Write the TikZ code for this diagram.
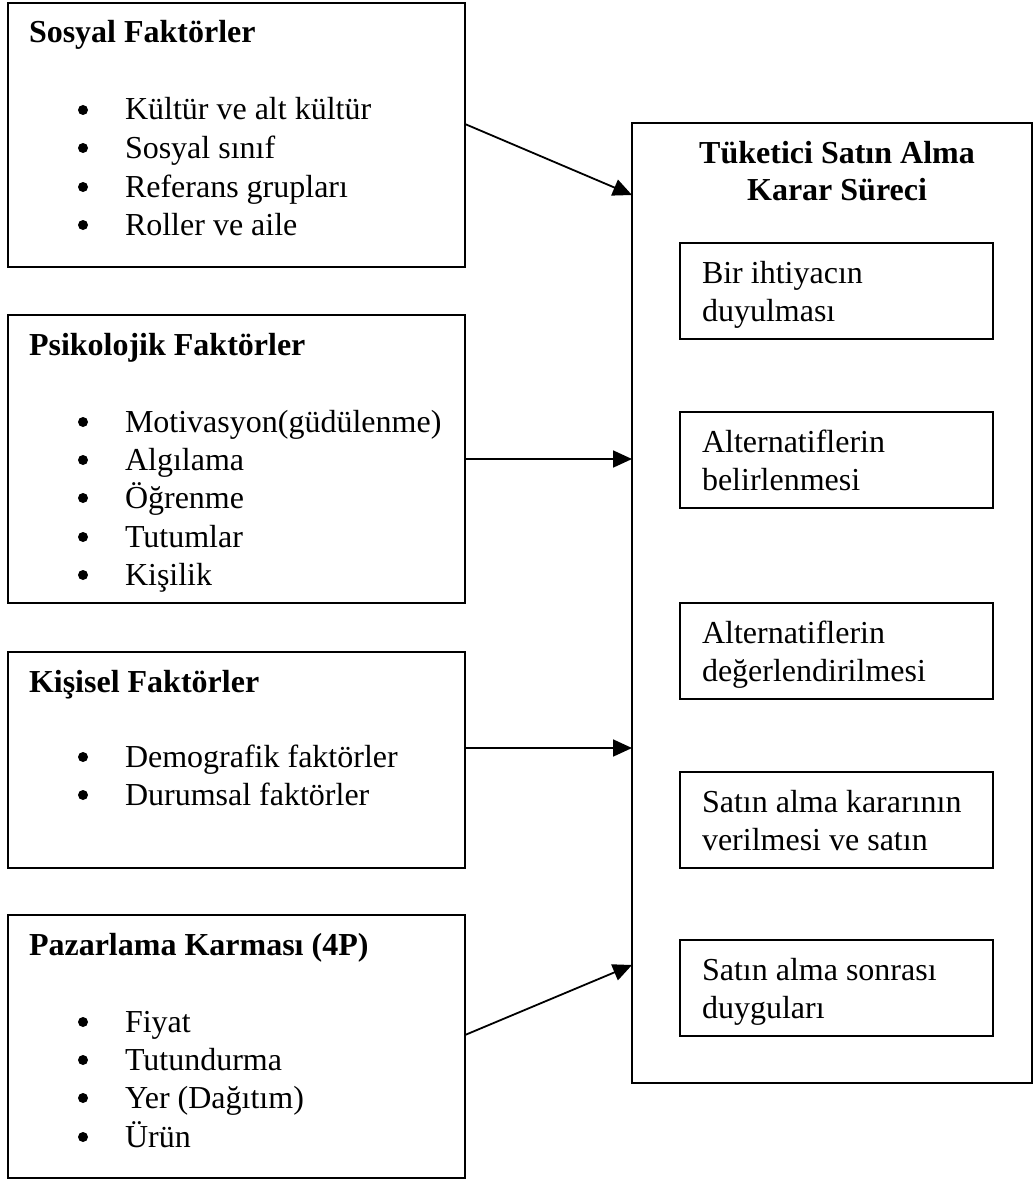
\documentclass[tikz,border=0pt]{standalone}
\usepackage{fontspec}
\setmainfont{Liberation Serif}
\usetikzlibrary{arrows.meta}
\tikzset{
  box/.style={draw, line width=1.8pt, rectangle, outer sep=0pt, inner sep=0pt, anchor=north west},
  txt/.style={inner sep=0pt, outer sep=0pt, anchor=base west, font=\fontsize{32}{38}\selectfont},
  ttl/.style={txt, font=\fontsize{32}{38}\selectfont\bfseries},
  ctr/.style={inner sep=0pt, outer sep=0pt, anchor=base, font=\fontsize{32}{38}\selectfont\bfseries},
  dot/.style={circle, fill, inner sep=0pt, minimum size=10pt},
  arr/.style={line width=1.8pt, -{Triangle[length=19pt,width=17pt]}}
}
\begin{document}
\begin{tikzpicture}[x=1pt,y=-1pt]
\useasboundingbox (0,0) rectangle (1035,1180);
% left boxes
\node[box, minimum width=457pt, minimum height=264pt] (sos) at (8,3) {};
\node[box, minimum width=457pt, minimum height=288pt] (psy) at (8,315) {};
\node[box, minimum width=457pt, minimum height=216pt] (kis) at (8,652) {};
\node[box, minimum width=457pt, minimum height=263pt] (paz) at (8,915) {};
% right box
\node[box, minimum width=400pt, minimum height=960pt] (dec) at (632,123) {};
\node[box, minimum width=313pt, minimum height=96pt] (b1) at (680,243) {};
\node[box, minimum width=313pt, minimum height=96pt] (b2) at (680,412) {};
\node[box, minimum width=313pt, minimum height=96pt] (b3) at (680,603) {};
\node[box, minimum width=313pt, minimum height=96pt] (b4) at (680,772) {};
\node[box, minimum width=313pt, minimum height=96pt] (b5) at (680,940) {};
% Sosyal
\node[ttl] (sosT) at (29,43) {Sosyal Faktörler};
\node[dot] (sb1) at (83,110) {}; \node[txt] (st1) at (125,120) {Kültür ve alt kültür};
\node[dot] (sb2) at (83,148) {}; \node[txt] (st2) at (125,158) {Sosyal sınıf};
\node[dot] (sb3) at (83,187) {}; \node[txt] (st3) at (125,197) {Referans grupları};
\node[dot] (sb4) at (83,225) {}; \node[txt] (st4) at (125,235) {Roller ve aile};
% Psikolojik
\node[ttl] (psyT) at (29,355) {Psikolojik Faktörler};
\node[dot] (pb1) at (83,422) {}; \node[txt] (pt1) at (125,432) {Motivasyon(güdülenme)};
\node[dot] (pb2) at (83,460) {}; \node[txt] (pt2) at (125,470) {Algılama};
\node[dot] (pb3) at (83,498) {}; \node[txt] (pt3) at (125,508) {Öğrenme};
\node[dot] (pb4) at (83,537) {}; \node[txt] (pt4) at (125,547) {Tutumlar};
\node[dot] (pb5) at (83,575) {}; \node[txt] (pt5) at (125,585) {Kişilik};
% Kisisel
\node[ttl] (kisT) at (29,692) {Kişisel Faktörler};
\node[dot] (kb1) at (83,757) {}; \node[txt] (kt1) at (125,767) {Demografik faktörler};
\node[dot] (kb2) at (83,795) {}; \node[txt] (kt2) at (125,805) {Durumsal faktörler};
% Pazarlama
\node[ttl] (pazT) at (29,955) {Pazarlama Karması (4P)};
\node[dot] (zb1) at (83,1022) {}; \node[txt] (zt1) at (125,1032) {Fiyat};
\node[dot] (zb2) at (83,1060) {}; \node[txt] (zt2) at (125,1070) {Tutundurma};
\node[dot] (zb3) at (83,1098) {}; \node[txt] (zt3) at (125,1108) {Yer (Dağıtım)};
\node[dot] (zb4) at (83,1137) {}; \node[txt] (zt4) at (125,1147) {Ürün};
% decision title
\node[ctr] (decT1) at (837,163) {Tüketici Satın Alma};
\node[ctr] (decT2) at (837,200) {Karar Süreci};
% inner texts
\node[txt] (b1a) at (702,283) {Bir ihtiyacın};
\node[txt] (b1b) at (702,321) {duyulması};
\node[txt] (b2a) at (702,452) {Alternatiflerin};
\node[txt] (b2b) at (702,490) {belirlenmesi};
\node[txt] (b3a) at (702,643) {Alternatiflerin};
\node[txt] (b3b) at (702,681) {değerlendirilmesi};
\node[txt] (b4a) at (702,812) {Satın alma kararının};
\node[txt] (b4b) at (702,850) {verilmesi ve satın};
\node[txt] (b5a) at (702,980) {Satın alma sonrası};
\node[txt] (b5b) at (702,1018) {duyguları};
% arrows
\draw[arr] ([yshift=11pt]sos.east) -- ([yshift=408pt]dec.west);
\draw[arr] (psy.east) -- (psy.east -| dec.west);
\draw[arr] ([yshift=12pt]kis.east) coordinate (k1) -- (k1 -| dec.west);
\draw[arr] ([yshift=11.5pt]paz.east) -- ([yshift=-362pt]dec.west);
\end{tikzpicture}
\end{document}
